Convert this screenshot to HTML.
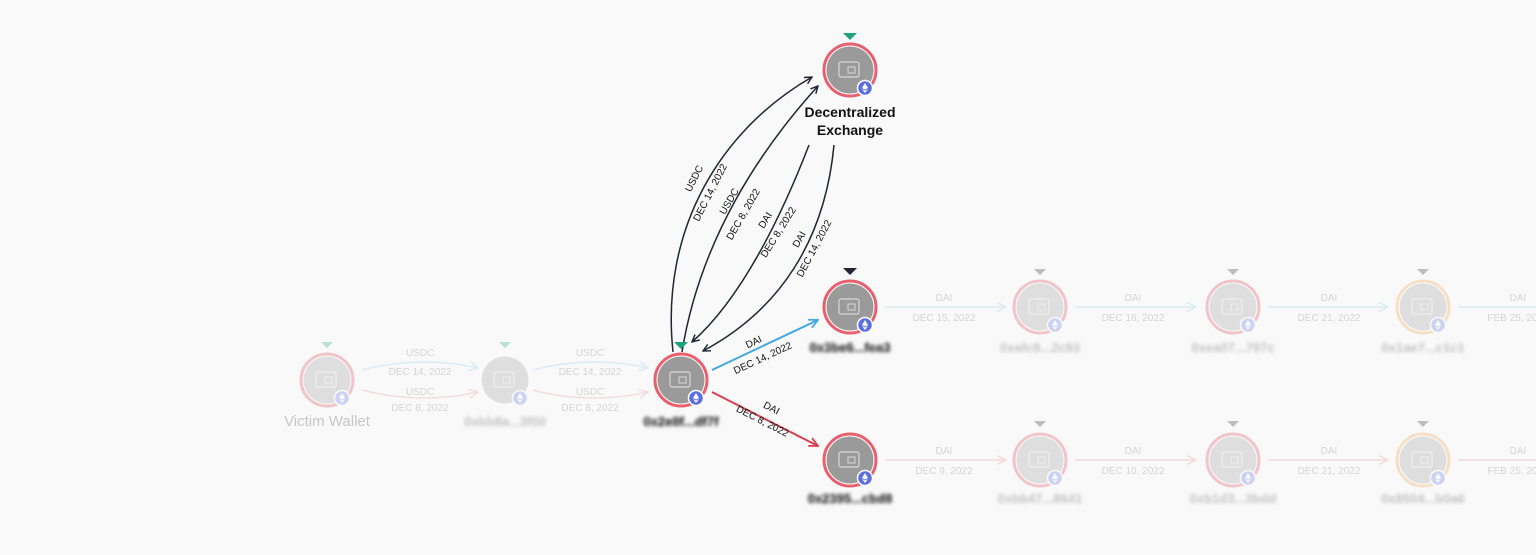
<!DOCTYPE html>
<html><head><meta charset="utf-8"><style>
html,body{margin:0;padding:0;background:#f9f9f9;}
svg{display:block;font-family:"Liberation Sans",sans-serif;}
.lbl{font-size:10px;}
</style></head><body>
<svg width="1536" height="555" viewBox="0 0 1536 555" xmlns="http://www.w3.org/2000/svg">
<defs>
<marker id="aK" viewBox="0 0 10 10" refX="9" refY="5" markerWidth="9" markerHeight="9" orient="auto-start-reverse" markerUnits="userSpaceOnUse"><path d="M1,1 L9,5 L1,9" fill="none" stroke="#1e2535" stroke-width="1.6"/></marker>
<marker id="aB" viewBox="0 0 10 10" refX="9" refY="5" markerWidth="11" markerHeight="11" orient="auto" markerUnits="userSpaceOnUse"><path d="M1,1 L9,5 L1,9" fill="none" stroke="#3fa9e0" stroke-width="1.6"/></marker>
<marker id="aR" viewBox="0 0 10 10" refX="9" refY="5" markerWidth="11" markerHeight="11" orient="auto" markerUnits="userSpaceOnUse"><path d="M1,1 L9,5 L1,9" fill="none" stroke="#d9404f" stroke-width="1.6"/></marker>
<marker id="aLB" viewBox="0 0 10 10" refX="9" refY="5" markerWidth="11" markerHeight="11" orient="auto" markerUnits="userSpaceOnUse"><path d="M1,1 L9,5 L1,9" fill="none" stroke="#8ccbec" stroke-width="1.4"/></marker>
<marker id="aLR" viewBox="0 0 10 10" refX="9" refY="5" markerWidth="11" markerHeight="11" orient="auto" markerUnits="userSpaceOnUse"><path d="M1,1 L9,5 L1,9" fill="none" stroke="#e8949b" stroke-width="1.4"/></marker>
<filter id="bl"><feGaussianBlur stdDeviation="1.8"/></filter>
<g id="node">
<circle r="26" fill="#fff" stroke="currentColor" stroke-width="3"/>
<circle r="23.5" fill="#9a9a9a"/>
<rect x="-11" y="-8" width="20" height="15" rx="2" fill="none" stroke="#d8d8d8" stroke-width="1.2"/>
<rect x="-2" y="-3" width="7" height="6" fill="none" stroke="#d8d8d8" stroke-width="1"/>
<circle r="7.5" cx="15" cy="18" fill="#5b6fe0" stroke="#fff" stroke-width="1.5"/>
<path d="M15,13 L18,18 L15,19.5 L12,18 Z M15,20.5 L18,19 L15,23 L12,19 Z" fill="#fff"/>
</g>
</defs>

<g opacity="0.28">
<path d="M362,370 Q420,355 478,368" fill="none" stroke="#8ccbec" stroke-width="1.5" marker-end="url(#aLB)"/>
<path d="M362,390 Q420,405 478,392" fill="none" stroke="#e8949b" stroke-width="1.5" marker-end="url(#aLR)"/>
<path d="M533,370 Q590,355 648,368" fill="none" stroke="#8ccbec" stroke-width="1.5" marker-end="url(#aLB)"/>
<path d="M533,390 Q590,405 648,392" fill="none" stroke="#e8949b" stroke-width="1.5" marker-end="url(#aLR)"/>
<g fill="#777" class="lbl" text-anchor="middle">
<text x="420" y="356">USDC</text><text x="420" y="375">DEC 14, 2022</text>
<text x="420" y="395">USDC</text><text x="420" y="411">DEC 8, 2022</text>
<text x="590" y="356">USDC</text><text x="590" y="375">DEC 14, 2022</text>
<text x="590" y="395">USDC</text><text x="590" y="411">DEC 8, 2022</text>
</g>
<use href="#node" x="327" y="380" color="#d9404f"/>
<use href="#node" x="505" y="380" color="#f9f9f9"/>
<path d="M321,342 L333,342 L327,348Z" fill="#1ca37a"/>
<path d="M499,342 L511,342 L505,348Z" fill="#1ca37a"/>
<text x="327" y="426" text-anchor="middle" font-size="15" fill="#444">Victim Wallet</text>
<text x="505" y="426" text-anchor="middle" font-size="13" font-weight="bold" fill="#333" filter="url(#bl)">0xbb8a...3f00</text>
</g>

<g opacity="0.28">
<g fill="none" stroke-width="1.5">
<line x1="885" y1="307" x2="1006" y2="307" stroke="#8ccbec" marker-end="url(#aLB)"/>
<line x1="1075" y1="307" x2="1196" y2="307" stroke="#8ccbec" marker-end="url(#aLB)"/>
<line x1="1268" y1="307" x2="1388" y2="307" stroke="#8ccbec" marker-end="url(#aLB)"/>
<line x1="1458" y1="307" x2="1536" y2="307" stroke="#8ccbec"/>
<line x1="885" y1="460" x2="1006" y2="460" stroke="#e8949b" marker-end="url(#aLR)"/>
<line x1="1075" y1="460" x2="1196" y2="460" stroke="#e8949b" marker-end="url(#aLR)"/>
<line x1="1268" y1="460" x2="1388" y2="460" stroke="#e8949b" marker-end="url(#aLR)"/>
<line x1="1458" y1="460" x2="1536" y2="460" stroke="#e8949b"/>
</g>
<g fill="#777" class="lbl" text-anchor="middle">
<text x="944" y="301">DAI</text><text x="944" y="321">DEC 15, 2022</text>
<text x="1133" y="301">DAI</text><text x="1133" y="321">DEC 16, 2022</text>
<text x="1329" y="301">DAI</text><text x="1329" y="321">DEC 21, 2022</text>
<text x="1518" y="301">DAI</text><text x="1518" y="321">FEB 25, 2023</text>
<text x="944" y="454">DAI</text><text x="944" y="474">DEC 9, 2022</text>
<text x="1133" y="454">DAI</text><text x="1133" y="474">DEC 10, 2022</text>
<text x="1329" y="454">DAI</text><text x="1329" y="474">DEC 21, 2022</text>
<text x="1518" y="454">DAI</text><text x="1518" y="474">FEB 25, 2023</text>
</g>
<use href="#node" x="1040" y="307" color="#d9404f"/>
<use href="#node" x="1233" y="307" color="#d9404f"/>
<use href="#node" x="1423" y="307" color="#f0a040"/>
<use href="#node" x="1040" y="460" color="#d9404f"/>
<use href="#node" x="1233" y="460" color="#d9404f"/>
<use href="#node" x="1423" y="460" color="#f0a040"/>
<g fill="#222">
<path d="M1034,269 L1046,269 L1040,275Z"/><path d="M1227,269 L1239,269 L1233,275Z"/><path d="M1417,269 L1429,269 L1423,275Z"/>
<path d="M1034,421 L1046,421 L1040,427Z"/><path d="M1227,421 L1239,421 L1233,427Z"/><path d="M1417,421 L1429,421 L1423,427Z"/>
</g>
<g font-size="13" font-weight="bold" fill="#333" text-anchor="middle" filter="url(#bl)">
<text x="1040" y="352">0xafc8...2c93</text><text x="1233" y="352">0xea07...797c</text><text x="1423" y="352">0x1ae7...c1c1</text>
<text x="1040" y="503">0xbb47...8641</text><text x="1233" y="503">0xb1d3...3bdd</text><text x="1423" y="503">0x8504...b0a6</text>
</g>
</g>

<g fill="none" stroke="#1e2535" stroke-width="1.5">
<path d="M673,352 C660,230 720,130 812,77" marker-end="url(#aK)"/>
<path d="M682,352 C700,240 760,150 818,86" marker-end="url(#aK)"/>
<path d="M809,145 C780,220 740,300 692,342" marker-end="url(#aK)"/>
<path d="M834,145 C825,240 780,310 703,351" marker-end="url(#aK)"/>
</g>
<g font-size="10" fill="#111" text-anchor="middle">
<text transform="translate(697,180) rotate(-63)">USDC</text>
<text transform="translate(713,194) rotate(-63)">DEC 14, 2022</text>
<text transform="translate(732,203) rotate(-60)">USDC</text>
<text transform="translate(746,216) rotate(-60)">DEC 8, 2022</text>
<text transform="translate(768,222) rotate(-58)">DAI</text>
<text transform="translate(781,234) rotate(-58)">DEC 8, 2022</text>
<text transform="translate(802,241) rotate(-60)">DAI</text>
<text transform="translate(817,250) rotate(-62)">DEC 14, 2022</text>
</g>
<line x1="712" y1="370" x2="818" y2="320" stroke="#3fa9e0" stroke-width="2" marker-end="url(#aB)"/>
<line x1="712" y1="392" x2="818" y2="446" stroke="#d9404f" stroke-width="2" marker-end="url(#aR)"/>
<g font-size="10" fill="#111" text-anchor="middle">
<text transform="translate(755,345) rotate(-25)">DAI</text>
<text transform="translate(764,361) rotate(-25)">DEC 14, 2022</text>
<text transform="translate(770,411) rotate(27)">DAI</text>
<text transform="translate(761,424) rotate(27)">DEC 8, 2022</text>
</g>

<use href="#node" x="681" y="380" color="#e8606e"/>
<use href="#node" x="850" y="70" color="#e8606e"/>
<use href="#node" x="850" y="307" color="#e8606e"/>
<use href="#node" x="850" y="460" color="#e8606e"/>
<path d="M674,342 L688,342 L681,349Z" fill="#1ca37a"/>
<path d="M843,33 L857,33 L850,40Z" fill="#1ca37a"/>
<path d="M843,268 L857,268 L850,275Z" fill="#1e2535"/>
<text x="850" y="117" text-anchor="middle" font-size="14" font-weight="bold" fill="#111">Decentralized</text>
<text x="850" y="135" text-anchor="middle" font-size="14" font-weight="bold" fill="#111">Exchange</text>
<g font-size="13" font-weight="bold" fill="#111" text-anchor="middle" filter="url(#bl)">
<text x="681" y="426">0x2e8f...df7f</text>
<text x="850" y="352">0x3be6...fea3</text>
<text x="850" y="503">0x2395...cbd8</text>
</g>
</svg>
</body></html>
